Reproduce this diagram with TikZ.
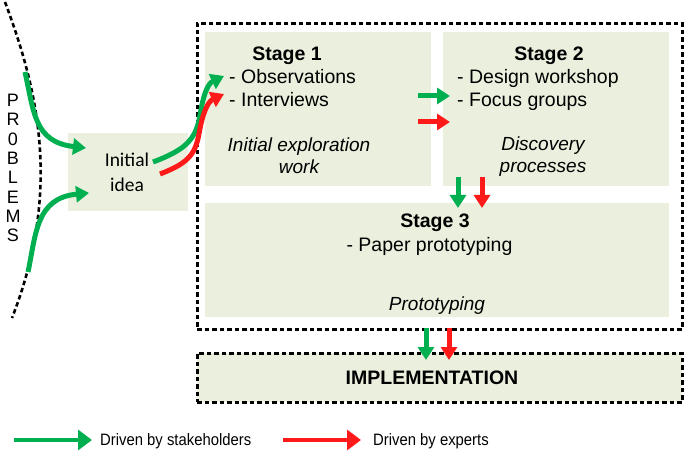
\documentclass[tikz,border=0pt]{standalone}
\usepackage{fontspec}
\setmainfont{Liberation Sans}
\newfontfamily\carlito{Carlito}
\usetikzlibrary{arrows.meta}
\definecolor{boxfill}{HTML}{EBF0DE}
\definecolor{agreen}{HTML}{00B050}
\definecolor{ared}{HTML}{FF1A1A}
\begin{document}
\begin{tikzpicture}[x=1pt,y=-1pt,
  box/.style={fill=boxfill, draw=none, anchor=north west, inner sep=0},
  dbox/.style={draw=black, line width=2.6pt, dash pattern=on 4.5pt off 3pt, anchor=north west, inner sep=0},
  txt/.style={inner sep=0, anchor=base, font=\fontsize{19.5}{23}\selectfont},
  ltxt/.style={inner sep=0, anchor=base west, font=\fontsize{19.5}{23}\selectfont},
  legtxt/.style={inner sep=0, anchor=base west, font=\fontsize{16.5}{19}\selectfont},
  ga/.style={draw=agreen, line width=5pt, -{Triangle[length=13pt,width=16pt]}},
  ra/.style={draw=ared, line width=5pt, -{Triangle[length=13pt,width=16pt]}},
  gleg/.style={draw=agreen, line width=4.8pt, -{Triangle[length=14pt,width=20pt]}},
  rleg/.style={draw=ared, line width=4.8pt, -{Triangle[length=14pt,width=20pt]}},
  probline/.style={draw=black, line width=2.6pt, dash pattern=on 4.5pt off 3pt}]
\useasboundingbox (0,0) rectangle (685,454);

% outer dashed frame and implementation
\node[dbox, minimum width=485pt, minimum height=306pt] (outer) at (196,22) {};
\node[box, minimum width=226pt, minimum height=154pt] (s1) at (205,32) {};
\node[box, minimum width=226pt, minimum height=154pt] (s2) at (443,32) {};
\node[box, minimum width=464pt, minimum height=114pt] (s3) at (205,203) {};
\node[dbox, fill=boxfill, minimum width=485pt, minimum height=49pt] (impl) at (196,352) {};
\node[box, minimum width=120pt, minimum height=78pt] (idea) at (68,133) {};

% problems curve
\draw[probline] (5,2) .. controls (38,90) and (62,190) .. (12,318);
\node[inner sep=0, align=center, font=\fontsize{18}{19.3}\selectfont] (prob) at (13,168)
  {P\\R\\0\\B\\L\\E\\M\\S};

% texts
\node[txt, font=\bfseries\fontsize{19.5}{23}\selectfont] (t1) at (287,60.5) {Stage 1};
\node[ltxt] (t1a) at (229,83.5) {- Observations};
\node[ltxt] (t1b) at (229,106.5) {- Interviews};
\node[txt, align=center, font=\itshape\fontsize{19}{22}\selectfont] (t1c) at (299,174) {Initial exploration\\work};

\node[txt, font=\bfseries\fontsize{19.5}{23}\selectfont] (t2) at (549,60.5) {Stage 2};
\node[ltxt] (t2a) at (457,83.5) {- Design workshop};
\node[ltxt] (t2b) at (457,106.5) {- Focus groups};
\node[txt, align=center, font=\itshape\fontsize{19}{22}\selectfont] (t2c) at (543,173) {Discovery\\processes};

\node[txt, font=\bfseries\fontsize{19.5}{23}\selectfont] (t3) at (435,228) {Stage 3};
\node[txt] (t3a) at (429.5,251.5) {- Paper prototyping};
\node[txt, font=\itshape\fontsize{19}{22}\selectfont] (t3c) at (437,310.5) {Prototyping};

\node[txt, font=\bfseries\fontsize{19.5}{23}\selectfont] (timpl) at (432,384) {IMPLEMENTATION};

\node[txt, align=center, font=\carlito\fontsize{19.5}{24.5}\selectfont] (tidea) at (127,191.5) {Initial\\idea};

% arrows into initial idea
\coordinate (p1) at (25,72);
\coordinate (p2) at (28,272);
\coordinate (i1) at (86,148);
\coordinate (i2) at (89,193);
\draw[ga] (p1) .. controls (34,112) and (34,142) .. (i1);
\draw[ga] (p2) .. controls (36,234) and (36,198) .. (i2);

% arrows from initial idea to stage 1
\coordinate (ig) at (153,162);
\coordinate (ir) at (160,174);
\coordinate (sg) at (224,76);
\coordinate (sr) at (224,94);
\draw[ga] (ig) .. controls (185,150) and (196,140) .. (200,115) .. controls (203,97) and (207,84) .. (sg);
\draw[ra] (ir) .. controls (186,164) and (195,156) .. (199,134) .. controls (202,116) and (207,102) .. (sr);

% stage 1 -> stage 2
\coordinate (a1) at (418,96);
\coordinate (a2) at (450,96);
\coordinate (b1) at (418,122);
\coordinate (b2) at (450,122);
\draw[ga] (a1) -- (a2);
\draw[ra] (b1) -- (b2);

% stage 2 -> stage 3
\coordinate (c1) at (458,177);
\coordinate (c2) at (458,208);
\coordinate (d1) at (482,177);
\coordinate (d2) at (482,208);
\draw[ga] (c1) -- (c2);
\draw[ra] (d1) -- (d2);

% stage 3 -> implementation
\coordinate (e1) at (426,328);
\coordinate (e2) at (426,360);
\coordinate (f1) at (449,328);
\coordinate (f2) at (449,360);
\draw[ga] (e1) -- (e2);
\draw[ra] (f1) -- (f2);

% legend
\coordinate (lg1) at (14,440);
\coordinate (lg2) at (92,440);
\coordinate (lr1) at (283,440);
\coordinate (lr2) at (361,440);
\draw[gleg] (lg1) -- (lg2);
\draw[rleg] (lr1) -- (lr2);
\node[legtxt] (lgt) at (100,445) {\scalebox{0.9}[1]{Driven by stakeholders}};
\node[legtxt] (lrt) at (373,445) {\scalebox{0.9}[1]{Driven by experts}};
\end{tikzpicture}
\end{document}
